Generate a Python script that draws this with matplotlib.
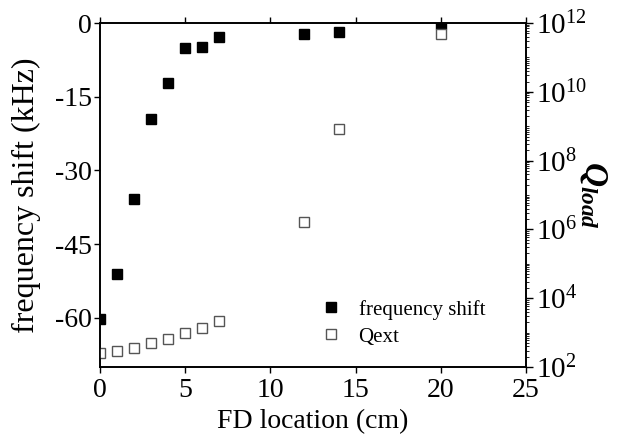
import numpy as np
import matplotlib
matplotlib.use('Agg')
import matplotlib.pyplot as plt
from matplotlib.ticker import LogLocator, FixedLocator, FuncFormatter, NullFormatter

plt.rcParams['font.family'] = ['Liberation Serif', 'DejaVu Serif']
plt.rcParams['axes.unicode_minus'] = False
plt.rcParams['mathtext.fontset'] = 'custom'
plt.rcParams['mathtext.rm'] = 'Liberation Serif'
plt.rcParams['mathtext.it'] = 'Liberation Serif:italic:bold'
plt.rcParams['mathtext.bf'] = 'Liberation Serif:bold'

# FD location (cm)
fd_loc = [0, 1, 2, 3, 4, 5, 6, 7, 12, 14, 20]
# frequency shift (kHz)
freq_shift = [-60.3, -51.0, -35.9, -19.6, -12.1, -5.1, -4.9, -2.9, -2.2, -1.8, -0.2]
# Qext (log scale)
qext = [2.5e2, 3.0e2, 3.6e2, 4.9e2, 6.5e2, 9.5e2, 1.4e3, 2.2e3, 1.6e6, 8.5e8, 4.8e11]

fig = plt.figure(figsize=(6.17, 4.40), dpi=100)
ax = fig.add_axes([0.162, 0.166, 0.6905, 0.7815])
ax2 = ax.twinx()

l1, = ax.plot(fd_loc, freq_shift, 's', color='black', markersize=7,
              linestyle='none', label='frequency shift', zorder=3)
l2, = ax2.plot(fd_loc, qext, 's', markerfacecolor='white', markeredgecolor='#555555',
               markeredgewidth=1.0, markersize=7, linestyle='none', label='Qext')

ax.set_xlim(0, 25)
ax.set_ylim(-70, 0)
ax.set_xticks([0, 5, 10, 15, 20, 25])
ax.set_yticks([0, -15, -30, -45, -60])
ax.tick_params(axis='both', labelsize=20, direction='out', length=4, width=1)
ax.tick_params(axis='x', top=True, pad=4)
ax.tick_params(axis='y', pad=2)
ax.set_xlabel('FD location (cm)', fontsize=20, labelpad=4)
ax.set_ylabel('frequency shift (kHz)', fontsize=23, labelpad=10)

ax2.set_yscale('log')
ax2.set_ylim(1e2, 1e12)
ax2.yaxis.set_major_locator(FixedLocator([10.0 ** k for k in range(2, 13, 2)]))
ax2.yaxis.set_major_formatter(FuncFormatter(lambda v, p: r'$\mathrm{10}^{\mathrm{%d}}$' % round(np.log10(v))))
ax2.yaxis.set_minor_locator(LogLocator(base=10, subs=np.arange(1, 10), numticks=100))
ax2.yaxis.set_minor_formatter(NullFormatter())
ax2.tick_params(axis='y', which='major', labelsize=21, direction='out', length=5, width=1, pad=2)
ax2.tick_params(axis='y', which='minor', direction='out', length=2.5, width=0.6)
ax2.set_ylabel(r'$Q_{load}$', fontsize=24, rotation=270, labelpad=16)

for a in (ax, ax2):
    for s in a.spines.values():
        s.set_linewidth(1.2)

ax.legend([l1, l2], ['frequency shift', 'Qext'], loc='upper left',
          bbox_to_anchor=(0.475, 0.25), frameon=False, fontsize=15,
          handletextpad=0.8, labelspacing=0.35, handlelength=1.0)

fig.savefig('out.png', dpi=100)
